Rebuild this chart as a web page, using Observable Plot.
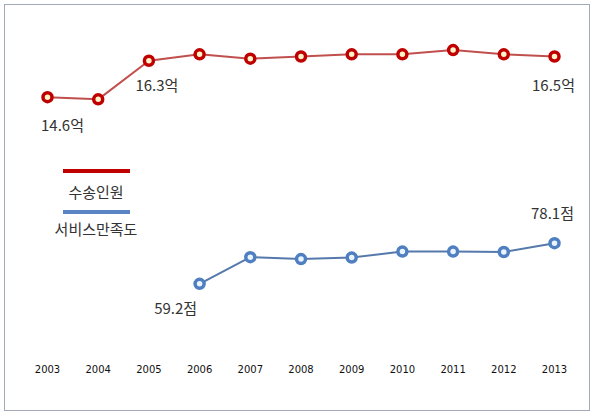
<!DOCTYPE html>
<html>
<head>
<meta charset="utf-8">
<script src="https://cdn.jsdelivr.net/npm/d3@7"></script>
<script src="https://cdn.jsdelivr.net/npm/@observablehq/plot@0.6"></script>
<style>
  html, body { margin: 0; padding: 0; background: #fff; }
  #chart { position: relative; width: 595px; height: 413px; overflow: hidden; background: #fff;
           font-family: 'Noto Sans CJK KR', 'Noto Sans', sans-serif; }
  #chart svg { position: absolute; left: 0; top: 0; }
  .frame { position: absolute; left: 4px; top: 4px; width: 586px; height: 407px; box-sizing: border-box;
           border: 1.5px solid #a3aab7; }
  .leg-line { position: absolute; height: 4px; }
  .leg-text { position: absolute; font-size: 15px; color: #333; white-space: nowrap; transform: translate(-50%, -50%); }
</style>
</head>
<body>
<div id="chart"><div class="frame"></div></div>
<script>
// ---- data ----
const years = [2003, 2004, 2005, 2006, 2007, 2008, 2009, 2010, 2011, 2012, 2013];
const passengers = [14.6, 14.5, 16.3, 16.6, 16.4, 16.5, 16.6, 16.6, 16.8, 16.6, 16.5]; // 억
const satisfactionYears = [2006, 2007, 2008, 2009, 2010, 2011, 2012, 2013];
const satisfaction = [59.2, 71.6, 70.7, 71.4, 74.2, 74.2, 74.0, 78.1]; // 점
const seriesNames = ["수송인원", "서비스만족도"];
const passengerUnit = "억";
const satisfactionUnit = "점";

const redData = years.map((year, i) => ({year, value: passengers[i]}));
const blueData = satisfactionYears.map((year, i) => ({year, value: satisfaction[i]}));

const W = 595, H = 413;
const xOpts = {type: "point", domain: years, range: [47, 554], padding: 0, round: false};
const baseStyle = {fontFamily: "'Noto Sans CJK KR', 'Noto Sans', sans-serif", background: "transparent", overflow: "visible", color: "#222"};

const red = "#c00000", redLine = "#c0504d";
const blue = "#4f7fc0", blueLine = "#5679ac";

const labelFor = (data, year) => data.filter(d => d.year === year);

const plotRed = Plot.plot({
  width: W, height: H,
  marginTop: 0, marginLeft: 0, marginRight: 0, marginBottom: 48,
  style: baseStyle,
  x: {...xOpts, label: null},
  y: {domain: [14.6, 16.5], range: [96.7, 56], axis: null},
  marks: [
    Plot.axisX({tickSize: 0, tickPadding: 0, fontSize: 10, fontFamily: "DejaVu Sans", fill: "#111", label: null, tickFormat: d => String(d)}),
    Plot.line(redData, {x: "year", y: "value", stroke: redLine, strokeWidth: 2}),
    Plot.dot(redData, {x: "year", y: "value", r: 4.5, stroke: red, strokeWidth: 3.5, fill: "#fff5c8"}),
    Plot.text(labelFor(redData, 2003), {x: "year", y: "value", text: d => d.value.toFixed(1) + passengerUnit, dx: 15, dy: 29, fontSize: 15, fill: "#333"}),
    Plot.text(labelFor(redData, 2005), {x: "year", y: "value", text: d => d.value.toFixed(1) + passengerUnit, dx: 8, dy: 25, fontSize: 15, fill: "#333"}),
    Plot.text(labelFor(redData, 2013), {x: "year", y: "value", text: d => d.value.toFixed(1) + passengerUnit, dx: -1, dy: 30, fontSize: 15, fill: "#333"})
  ]
});

const plotBlue = Plot.plot({
  width: W, height: H,
  marginTop: 0, marginLeft: 0, marginRight: 0, marginBottom: 0,
  style: baseStyle,
  x: {...xOpts, axis: null},
  y: {domain: [59.2, 78.1], range: [283.3, 242.7], axis: null},
  marks: [
    Plot.line(blueData, {x: "year", y: "value", stroke: blueLine, strokeWidth: 2}),
    Plot.dot(blueData, {x: "year", y: "value", r: 4.5, stroke: blue, strokeWidth: 3.5, fill: "#eaf4ff"}),
    Plot.text(labelFor(blueData, 2006), {x: "year", y: "value", text: d => d.value.toFixed(1) + satisfactionUnit, dx: -24, dy: 25, fontSize: 15, fill: "#333"}),
    Plot.text(labelFor(blueData, 2013), {x: "year", y: "value", text: d => d.value.toFixed(1) + satisfactionUnit, dx: -2, dy: -29, fontSize: 15, fill: "#333"})
  ]
});

const chart = document.getElementById("chart");
chart.appendChild(plotRed);
chart.appendChild(plotBlue);

// legend
const legend = [
  {name: seriesNames[0], color: red, lineTop: 169, textY: 191},
  {name: seriesNames[1], color: "#5b84c4", lineTop: 210, textY: 228}
];
legend.forEach(l => {
  const line = document.createElement("div");
  line.className = "leg-line";
  line.style.left = "63px"; line.style.width = "67px"; line.style.top = l.lineTop + "px";
  line.style.background = l.color;
  chart.appendChild(line);
  const t = document.createElement("div");
  t.className = "leg-text";
  t.textContent = l.name;
  t.style.left = "96px"; t.style.top = l.textY + "px";
  chart.appendChild(t);
});
</script>
</body>
</html>
